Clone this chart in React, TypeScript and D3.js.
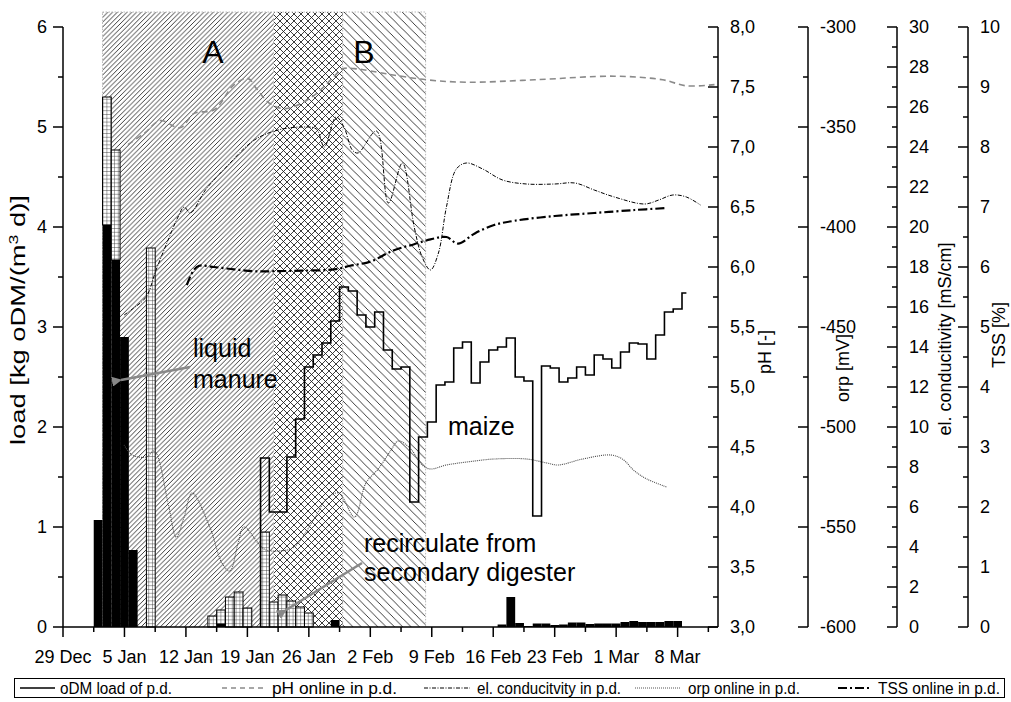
import React from "react";
import * as d3 from "d3";

// ---------- data ----------
const xTickDays = [0, 7, 14, 21, 28, 35, 42, 49, 56, 63, 70];
const xTickLabels = ["29 Dec", "5 Jan", "12 Jan", "19 Jan", "26 Jan", "2 Feb", "9 Feb", "16 Feb", "23 Feb", "1 Mar", "8 Mar"];

// liquid manure (black bars), day index from 29 Dec
const manureDays = [4, 5, 6, 7, 8, 18, 31, 50, 51, 52, 53, 54, 55, 56, 57, 58, 59, 60, 61, 62, 63, 64, 65, 66, 67, 68, 69, 70];
const manureValues = [1.07, 4.02, 3.67, 2.9, 0.77, 0.03, 0.07, 0.025, 0.3, 0.04, 0.01, 0.035, 0.035, 0.02, 0.025, 0.045, 0.045, 0.03, 0.035, 0.035, 0.035, 0.05, 0.06, 0.05, 0.05, 0.05, 0.06, 0.06];

// recirculate from secondary digester (grid bars, stacked on manure)
const recircDays = [5, 6, 10, 17, 18, 19, 20, 21, 23, 24, 25, 26, 27, 28];
const recircValues = [1.28, 1.1, 3.79, 0.11, 0.14, 0.3, 0.35, 0.19, 0.95, 0.25, 0.32, 0.26, 0.2, 0.14];

// oDM load of maize (daily step line), days 23..71
const maizeStartDay = 23;
const maizeValues = [1.69, 1.15, 1.15, 1.7, 2.08, 2.6, 2.72, 2.84, 3.06, 3.4, 3.36, 3.12, 3.0, 3.15, 2.77, 2.58, 2.6, 1.25, 1.9, 2.05, 2.42, 2.45, 2.79, 2.85, 2.44, 2.65, 2.77, 2.8, 2.89, 2.5, 2.46, 1.11, 2.61, 2.59, 2.45, 2.49, 2.6, 2.52, 2.72, 2.68, 2.59, 2.75, 2.84, 2.83, 2.68, 2.92, 3.15, 3.18, 3.34];
const maizeEndDay = 71;

// pH online
const phDays = [7.4, 9.35, 11.06, 13.34, 14.94, 17.22, 19.5, 21.1, 22.0, 23.6, 25.4, 28.4, 30.9, 31.8, 33.6, 36.8, 41.4, 46.0, 53.7, 62.8, 68.3, 71.0, 74.2];
const phValues = [7.02, 7.12, 7.22, 7.16, 7.28, 7.31, 7.52, 7.57, 7.49, 7.36, 7.32, 7.42, 7.59, 7.65, 7.65, 7.61, 7.56, 7.54, 7.56, 7.59, 7.56, 7.51, 7.52];

// el. conductivity online
const condDays = [6.96, 7.9, 9.46, 10.6, 11.97, 13.1, 13.8, 14.5, 16.3, 18.6, 21.8, 24.5, 27.25, 28.85, 29.76, 31.1, 32.0, 32.95, 33.6, 35.7, 37.06, 38.65, 40.0, 40.9, 41.85, 42.76, 43.67, 44.8, 45.95, 47.8, 50.06, 52.8, 56.0, 58.3, 60.5, 62.8, 66.25, 67.85, 69.45, 71.0, 72.6];
const condValues = [15.6, 15.9, 16.5, 17.85, 19.35, 20.5, 21.0, 20.7, 21.9, 23.0, 24.35, 24.85, 25.0, 24.9, 24.0, 25.5, 25.0, 23.85, 23.7, 24.8, 21.2, 23.2, 20.0, 18.5, 17.85, 18.7, 21.0, 22.9, 23.2, 22.9, 22.35, 22.15, 22.15, 22.2, 21.85, 21.5, 21.15, 21.35, 21.6, 21.5, 21.1];

// orp online
const orpDays = [6.96, 7.87, 9.46, 10.4, 11.97, 12.9, 13.8, 14.7, 16.8, 18.1, 19.0, 19.95, 20.6, 22.9, 24.5, 26.3, 28.6, 30.0, 31.4, 33.2, 34.5, 35.9, 37.3, 38.2, 39.6, 40.9, 41.85, 43.67, 46.9, 49.1, 52.8, 55.1, 56.4, 59.2, 62.4, 63.7, 65.1, 66.5, 68.75];
const orpValues = [-509, -514, -515, -512, -538, -555, -545, -533, -551, -568, -572, -558, -550, -561, -562, -560, -546, -536, -533, -545, -528, -521, -512, -507, -511, -519, -521, -519, -517, -516, -516, -518, -519, -516, -514, -516, -522, -526, -530];

// TSS online
const tssDays = [14.1, 14.9, 15.5, 17.2, 19.5, 21.8, 24.1, 27.25, 30.9, 32.7, 35.0, 37.7, 40.0, 41.85, 43.67, 45.0, 46.9, 49.1, 51.4, 56.0, 60.5, 65.1, 68.5];
const tssValues = [5.7, 5.95, 6.02, 6.0, 5.96, 5.93, 5.93, 5.94, 5.96, 6.02, 6.09, 6.28, 6.38, 6.46, 6.5, 6.39, 6.56, 6.7, 6.77, 6.85, 6.9, 6.95, 6.98];

// phases
const phaseA = [4.5, 31.85];
const phaseB = [24.0, 41.3];

const legendLabels = ["oDM load of p.d.", "pH online in p.d.", "el. conducitvity in p.d.", "orp online in p.d.", "TSS online in p.d."];

// ---------- layout ----------
const W = 1011;
const H = 702;
const L = 63;
const R = 718;
const T = 27;
const B = 627;
const HATCH_TOP = 12;
const FONT = "'Liberation Sans', Arial, Helvetica, sans-serif";

const fmtComma = (v: number) => d3.format(".1f")(v).replace(".", ",");

function range(a: number, b: number, s: number) {
  const out: number[] = [];
  for (let v = a; v <= b + 1e-9; v += s) out.push(+v.toFixed(6));
  return out;
}

type RightAxis = {
  x: number;
  scale: d3.ScaleLinear<number, number>;
  major: number[];
  minor: number[];
  fmt: (v: number) => string;
  title: string;
  titleX: number;
  titleY: number;
};

export default function App() {
  const x = d3.scaleLinear().domain([0, 74.6]).range([L, R]);
  const yL = d3.scaleLinear().domain([0, 6]).range([B, T]);
  const yPH = d3.scaleLinear().domain([3, 8]).range([B, T]);
  const yORP = d3.scaleLinear().domain([-600, -300]).range([B, T]);
  const yC = d3.scaleLinear().domain([0, 30]).range([B, T]);
  const yT = d3.scaleLinear().domain([0, 10]).range([B, T]);

  const smooth = (xs: number[], ys: number[], ys2: d3.ScaleLinear<number, number>) =>
    d3
      .line<number>()
      .x((_, i) => x(xs[i]))
      .y((_, i) => ys2(ys[i]))
      .curve(d3.curveCatmullRom.alpha(0.5))(ys) || "";

  const manureMap = new Map<number, number>();
  manureDays.forEach((d, i) => manureMap.set(d, manureValues[i]));

  const maizePts: [number, number][] = [[maizeStartDay - 0.5, 0]];
  maizeValues.forEach((v, i) => maizePts.push([maizeStartDay + i - 0.5, v]));
  maizePts.push([maizeEndDay, maizeValues[maizeValues.length - 1]]);
  const maizePath =
    d3
      .line<[number, number]>()
      .x((d) => x(d[0]))
      .y((d) => yL(d[1]))
      .curve(d3.curveStepAfter)(maizePts) || "";

  const rightAxes: RightAxis[] = [
    { x: 718, scale: yPH, major: range(3, 8, 0.5), minor: range(3.25, 7.75, 0.5), fmt: fmtComma, title: "pH [-]", titleX: 771, titleY: 352 },
    { x: 808, scale: yORP, major: range(-600, -300, 50), minor: range(-575, -325, 50), fmt: (v) => String(v), title: "orp [mV]", titleX: 849, titleY: 368 },
    { x: 897, scale: yC, major: range(0, 30, 2), minor: range(1, 29, 2), fmt: (v) => String(v), title: "el. conducitivity [mS/cm]", titleX: 951, titleY: 339 },
    { x: 968, scale: yT, major: range(0, 10, 1), minor: range(0.5, 9.5, 1), fmt: (v) => String(v), title: "TSS [%]", titleX: 1005, titleY: 335 },
  ];

  const barX = (d: number) => x(d - 0.5);
  const barW = (d: number) => x(d + 0.5) - x(d - 0.5);

  const xA0 = x(phaseA[0]);
  const xA1 = x(phaseA[1]);
  const xB0 = x(phaseB[0]);
  const xB1 = x(phaseB[1]);

  const legendItems = [
    { x1: 20, x2: 55, tx: 60, tw: 112, stroke: "#000", w: 1.5, dash: "" },
    { x1: 222, x2: 265, tx: 272, tw: 125, stroke: "#8a8a8a", w: 1.5, dash: "5 4" },
    { x1: 424, x2: 470, tx: 477, tw: 144, stroke: "#000", w: 1, dash: "4 1.5 1 1.5" },
    { x1: 635, x2: 680, tx: 688, tw: 112, stroke: "#555", w: 1, dash: "1 1" },
    { x1: 838, x2: 870, tx: 878, tw: 122, stroke: "#000", w: 2.2, dash: "9 3 2 3" },
  ];

  const hs = 4.8; // A hatch spacing
  const bs = 8.3; // B hatch spacing
  const os = 7.0; // overlap spacing

  return (
    <svg width={W} height={H} viewBox={`0 0 ${W} ${H}`} style={{ display: "block", position: "absolute", left: 0, top: 0, background: "#fff" }} fontFamily={FONT}>
      <defs>
        <pattern id="hA" patternUnits="userSpaceOnUse" width={hs} height={hs}>
          <path d={`M0,${hs} L${hs},0 M-1,1 L1,-1 M${hs - 1},${hs + 1} L${hs + 1},${hs - 1}`} stroke="#1a1a1a" strokeWidth={0.85} />
        </pattern>
        <pattern id="hB" patternUnits="userSpaceOnUse" width={bs} height={bs}>
          <path d={`M0,0 L${bs},${bs} M-1,${bs - 1} L1,${bs + 1} M${bs - 1},-1 L${bs + 1},1`} stroke="#1a1a1a" strokeWidth={0.85} />
        </pattern>
        <pattern id="hAB" patternUnits="userSpaceOnUse" width={os} height={os}>
          <path
            d={`M0,0 L${os},${os} M-1,${os - 1} L1,${os + 1} M${os - 1},-1 L${os + 1},1 M0,${os} L${os},0 M-1,1 L1,-1 M${os - 1},${os + 1} L${os + 1},${os - 1}`}
            stroke="#1a1a1a"
            strokeWidth={0.85}
          />
        </pattern>
        <pattern id="grid" patternUnits="userSpaceOnUse" width={3.8} height={3.8}>
          <rect width={3.8} height={3.8} fill="#fff" />
          <path d="M0,0 H3.8 M0,0 V3.8" stroke="#222" strokeWidth={0.8} />
        </pattern>
        <marker id="arr" viewBox="0 0 10 10" refX={1} refY={5} markerWidth={4} markerHeight={4} orient="auto-start-reverse">
          <path d="M0,5 L10,0 L10,10 Z" fill="#888" />
        </marker>
      </defs>

      {/* phase hatching */}
      <rect x={xA0} y={HATCH_TOP} width={xB0 - xA0} height={B - HATCH_TOP} fill="url(#hA)" />
      <rect x={xB0} y={HATCH_TOP} width={xA1 - xB0} height={B - HATCH_TOP} fill="url(#hAB)" />
      <rect x={xA1} y={HATCH_TOP} width={xB1 - xA1} height={B - HATCH_TOP} fill="url(#hB)" />
      <path
        d={`M${xA0},${B} V${HATCH_TOP} H${xB1} V${B} M${xA1},${HATCH_TOP} V${B}`}
        fill="none"
        stroke="#bbb"
        strokeWidth={1}
        strokeDasharray="1.5 1.5"
      />
      <text x={213} y={63} fontSize={32} textAnchor="middle">A</text>
      <text x={364} y={63} fontSize={32} textAnchor="middle">B</text>

      {/* recirculate bars */}
      {recircDays.map((d, i) => {
        const base = manureMap.get(d) || 0;
        const top = base + recircValues[i];
        return (
          <rect key={"r" + i} x={barX(d)} y={yL(top)} width={barW(d)} height={yL(base) - yL(top)} fill="url(#grid)" stroke="#000" strokeWidth={1} />
        );
      })}
      {/* manure bars */}
      {manureDays.map((d, i) => (
        <rect key={"m" + i} x={barX(d)} y={yL(manureValues[i])} width={barW(d)} height={B - yL(manureValues[i])} fill="#000" />
      ))}

      {/* online curves */}
      <path d={smooth(orpDays, orpValues, yORP)} fill="none" stroke="#4a4a4a" strokeWidth={1.1} strokeDasharray="1 1" />
      <path d={smooth(phDays, phValues, yPH)} fill="none" stroke="#8a8a8a" strokeWidth={1.6} strokeDasharray="6 4" />
      <path d={smooth(condDays, condValues, yC)} fill="none" stroke="#000" strokeWidth={1} strokeDasharray="4 1.5 1 1.5" />
      <path d={smooth(tssDays, tssValues, yT)} fill="none" stroke="#000" strokeWidth={2.2} strokeDasharray="9 3 2 3" />

      {/* maize oDM load */}
      <path d={maizePath} fill="none" stroke="#000" strokeWidth={1.6} />

      {/* annotations */}
      <line x1={190} y1={367} x2={121} y2={380} stroke="#888" strokeWidth={2.5} markerEnd="url(#arr)" />
      <text fontSize={25}>
        <tspan x={193} y={357}>liquid</tspan>
        <tspan x={193} y={388}>manure</tspan>
      </text>
      <text x={448} y={435} fontSize={25}>maize</text>
      <line x1={362} y1={563} x2={286} y2={610} stroke="#888" strokeWidth={2.5} markerEnd="url(#arr)" />
      <text fontSize={25}>
        <tspan x={364} y={552}>recirculate from</tspan>
        <tspan x={364} y={581}>secondary digester</tspan>
      </text>

      {/* left axis */}
      <line x1={L} y1={T} x2={L} y2={B} stroke="#000" strokeWidth={1.5} />
      {range(0, 6, 1).map((v) => (
        <g key={"ly" + v}>
          <line x1={L - 10} x2={L} y1={yL(v)} y2={yL(v)} stroke="#000" strokeWidth={1.5} />
          <text x={L - 16} y={yL(v)} dy="0.35em" fontSize={18} textAnchor="end">{v}</text>
        </g>
      ))}
      {range(0.5, 5.5, 1).map((v) => (
        <line key={"lym" + v} x1={L - 5} x2={L} y1={yL(v)} y2={yL(v)} stroke="#000" strokeWidth={1.5} />
      ))}
      <text transform={`translate(25,320) rotate(-90)`} fontSize={20} textAnchor="middle" textLength={250} lengthAdjust="spacingAndGlyphs">
        load [kg oDM/(m<tspan dy={-7} fontSize={13}>3</tspan><tspan dy={7}> d)]</tspan>
      </text>

      {/* bottom axis */}
      <line x1={L} y1={B} x2={R} y2={B} stroke="#000" strokeWidth={1.5} />
      {xTickDays.map((d, i) => (
        <g key={"xt" + i}>
          <line x1={x(d)} x2={x(d)} y1={B} y2={B + 10} stroke="#000" strokeWidth={1.5} />
          <text x={x(d)} y={663} fontSize={18} textAnchor="middle">{xTickLabels[i]}</text>
        </g>
      ))}
      {xTickDays.map((d, i) => (
        <line key={"xm" + i} x1={x(d + 3.5)} x2={x(d + 3.5)} y1={B} y2={B + 5} stroke="#000" strokeWidth={1.5} />
      ))}

      {/* right axes */}
      {rightAxes.map((a, k) => (
        <g key={"ra" + k}>
          <line x1={a.x} x2={a.x} y1={T} y2={B} stroke="#000" strokeWidth={1.5} />
          {a.major.map((v) => (
            <g key={"M" + v}>
              <line x1={a.x - 10} x2={a.x} y1={a.scale(v)} y2={a.scale(v)} stroke="#000" strokeWidth={1.5} />
              <text x={a.x + 12} y={a.scale(v)} dy="0.35em" fontSize={18}>{a.fmt(v)}</text>
            </g>
          ))}
          {a.minor.map((v) => (
            <line key={"m" + v} x1={a.x - 5} x2={a.x} y1={a.scale(v)} y2={a.scale(v)} stroke="#000" strokeWidth={1.5} />
          ))}
          <text transform={`translate(${a.titleX},${a.titleY}) rotate(-90)`} fontSize={18} textAnchor="middle">{a.title}</text>
        </g>
      ))}

      {/* legend */}
      <rect x={14.5} y={678.5} width={990} height={19} fill="#fff" stroke="#000" strokeWidth={1} />
      {legendItems.map((it, i) => (
        <g key={"lg" + i}>
          <line x1={it.x1} x2={it.x2} y1={688} y2={688} stroke={it.stroke} strokeWidth={it.w} strokeDasharray={it.dash || undefined} />
          <text x={it.tx} y={694} fontSize={16} textLength={it.tw} lengthAdjust="spacingAndGlyphs">{legendLabels[i]}</text>
        </g>
      ))}
    </svg>
  );
}
